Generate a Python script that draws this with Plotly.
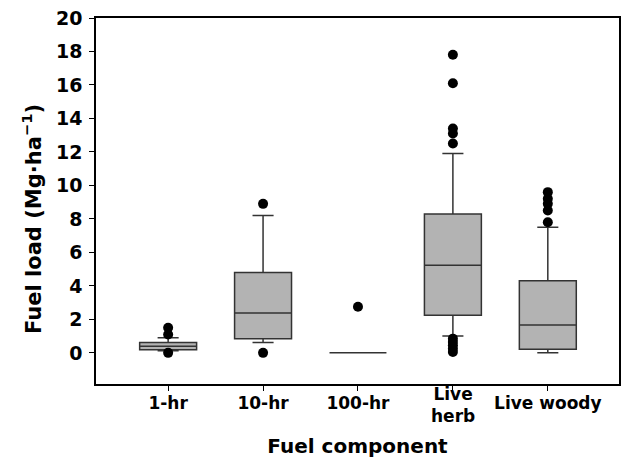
import plotly.graph_objects as go

categories = ["1-hr", "10-hr", "100-hr", "Live herb", "Live woody"]
tick_labels = ["1-hr", "10-hr", "100-hr", "", "Live woody"]
q1 = [0.18, 0.85, 0.0, 2.24, 0.22]
median = [0.4, 2.38, 0.0, 5.23, 1.66]
q3 = [0.62, 4.8, 0.0, 8.3, 4.3]
lower_fence = [0.12, 0.62, 0.0, 1.0, 0.0]
upper_fence = [0.9, 8.2, 0.0, 11.9, 7.5]

outliers = {
    "1-hr": [1.5, 1.1, 0.0],
    "10-hr": [8.9, 0.0],
    "100-hr": [2.75],
    "Live herb": [17.8, 16.1, 13.4, 13.1, 12.5, 0.85, 0.65, 0.45, 0.25, 0.05],
    "Live woody": [9.6, 9.2, 8.9, 8.5, 7.8],
}

font_family = "DejaVu Sans"

fig = go.Figure()
fig.add_trace(go.Box(
    x=categories, q1=q1, median=median, q3=q3,
    lowerfence=lower_fence, upperfence=upper_fence,
    fillcolor="#b3b3b3", line=dict(color="#333333", width=1.5),
    whiskerwidth=0.37, boxpoints=False, width=0.6, showlegend=False,
    hoverinfo="skip",
))

ox, oy = [], []
for c in categories:
    for v in outliers[c]:
        ox.append(c)
        oy.append(v)
fig.add_trace(go.Scatter(
    x=ox, y=oy, mode="markers",
    marker=dict(color="black", size=10), showlegend=False,
))

# two-line tick label for "Live herb", vertically centred like the reference
fig.add_annotation(x="Live herb", xref="x", y=0, yref="paper", yshift=2,
                   text="<b>Live<br>herb</b>", showarrow=False, yanchor="top",
                   font=dict(size=17, family=font_family))

# y axis title (sits a little below the plot's centre in the reference)
fig.add_annotation(x=0, xref="paper", xshift=-64, xanchor="center",
                   y=0.451, yref="paper", yanchor="middle", textangle=-90,
                   text="<b>Fuel load (Mg·ha<sup>−1</sup>)</b>", showarrow=False,
                   font=dict(size=21, family=font_family))

fig.update_layout(
    width=621, height=458,
    margin=dict(l=96, r=2, t=18, b=74),
    paper_bgcolor="white", plot_bgcolor="white",
    font=dict(family=font_family, color="black"),
)
fig.update_xaxes(
    type="category", categoryorder="array", categoryarray=categories,
    tickvals=categories, ticktext=tick_labels,
    range=[-0.76, 4.75],
    showline=True, linecolor="black", linewidth=1.5, mirror=True,
    ticks="outside", ticklen=5, tickcolor="black", ticklabelstandoff=-2,
    tickfont=dict(size=17, family=font_family, weight="bold"),
    showgrid=False, zeroline=False,
    title=dict(text="<b>Fuel component</b>", font=dict(size=20), standoff=33),
    automargin=False,
)
fig.update_yaxes(
    range=[-1.86, 20], tickvals=list(range(0, 21, 2)),
    showline=True, linecolor="black", linewidth=1.5, mirror=True,
    ticks="outside", ticklen=5, tickcolor="black", ticklabeloverflow="allow",
    ticklabelstandoff=3,
    tickfont=dict(size=19, family=font_family, weight="bold"),
    showgrid=False, zeroline=False,
    automargin=False,
)

fig.write_html(
    "out.html",
    config={"displayModeBar": False},
    post_script="document.body.style.margin='0';document.body.style.overflow='hidden';",
)
